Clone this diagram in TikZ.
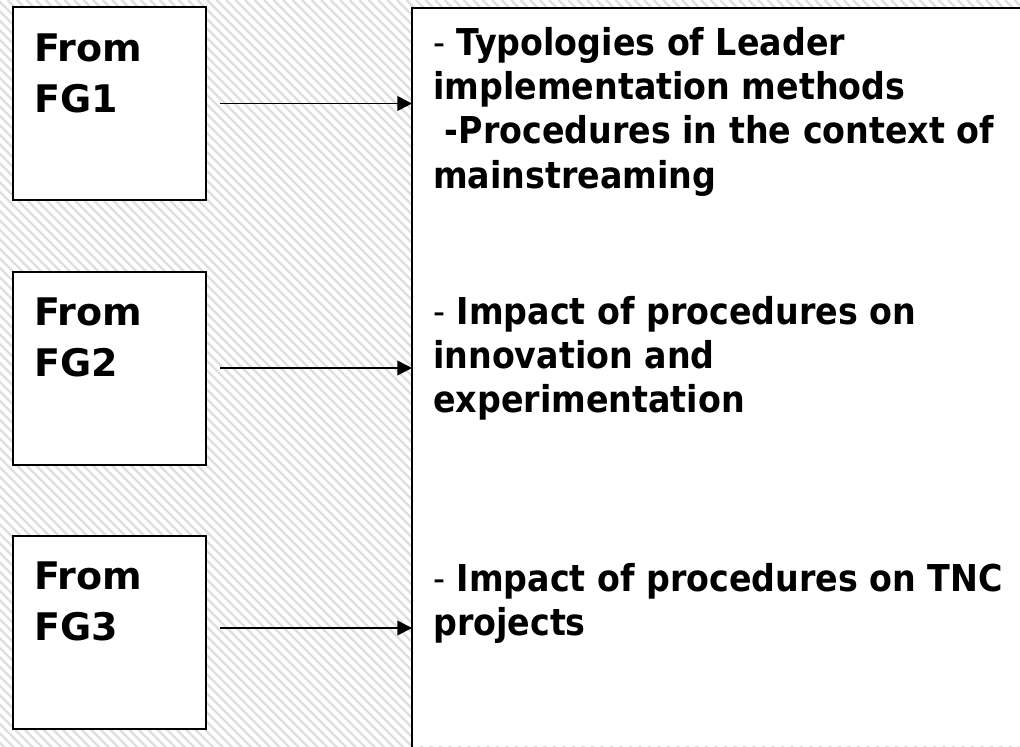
\documentclass[tikz,border=0pt]{standalone}
\usepackage{fontspec}
\setmainfont{DejaVu Sans}
\newfontfamily\boxfont{DejaVu Sans}
\newfontfamily\listfont{DejaVu Sans Condensed}
\usetikzlibrary{arrows.meta}
\definecolor{hatchgray}{RGB}{222,222,222}
\tikzset{
  hatchline/.style={draw=hatchgray, line width=1.7pt},
  fgbox/.style={draw=black, line width=1.5pt, fill=white, rectangle, inner sep=0pt,
    minimum width=144.75pt, minimum height=144.75pt},
  fgtext/.style={anchor=north west, inner sep=0pt, align=left,
    font=\boxfont\bfseries\fontsize{28.5pt}{38.25pt}\selectfont},
  listtext/.style={anchor=north west, inner sep=0pt, align=left,
    font=\listfont\bfseries\fontsize{27.75pt}{33.2pt}\selectfont},
  arr/.style={draw=black, line width=1.2pt, -{Triangle[length=11pt,width=11pt]}},
  bigbox/.style={fill=white, rectangle, inner sep=0pt, minimum width=456pt, minimum height=553.5pt, anchor=north west},
  bigborder/.style={draw=black, line width=1.5pt}
}
\begin{document}
\begin{tikzpicture}[x=0.75pt, y=-0.75pt]
\useasboundingbox (0,0) rectangle (1020,746);
% hatched background
\fill[white] (0,0) rectangle (1020,746);
\begin{scope}
\clip (0,0) rectangle (1020,746);
\foreach \c in {-800,-790.5,...,1030} {
  \draw[hatchline] (\c,0) -- ({\c+800},800);
}
\end{scope}
% big target box
\node[bigbox] (tgt) at (412,8) {};
\draw[bigborder] (tgt.south west) -- (tgt.north west) -- (tgt.north east);
% source boxes
\node[fgbox] (b1) at (109.5,103.5) {};
\node[fgbox] (b2) at (109.5,368) {};
\node[fgbox] (b3) at (109.5,632) {};
\node[fgtext] (t1) at ([xshift=16.5pt,yshift=-20.25pt]b1.north west) {\rule{0pt}{21pt}From\\FG1};
\node[fgtext] (t2) at ([xshift=16.5pt,yshift=-20.25pt]b2.north west) {\rule{0pt}{21pt}From\\FG2};
\node[fgtext] (t3) at ([xshift=16.5pt,yshift=-20.25pt]b3.north west) {\rule{0pt}{21pt}From\\FG3};
% text blocks
\node[listtext] (l1) at (433,27) {\rule{0pt}{21pt}{\mdseries -} Typologies of Leader\\implementation methods\\\ -Procedures in the context of\\mainstreaming};
\node[listtext] (l2) at (433,296) {\rule{0pt}{21pt}{\mdseries -} Impact of procedures on\\innovation and\\experimentation};
\node[listtext] (l3) at (433,563) {\rule{0pt}{21pt}{\mdseries -} Impact of procedures on TNC\\projects};
% arrows
\draw[arr] ([xshift=9.75pt]b1.east) -- (b1.east -| tgt.west);
\draw[arr] ([xshift=9.75pt]b2.east) -- (b2.east -| tgt.west);
\draw[arr] ([xshift=9.75pt,yshift=3pt]b3.east) -- ([yshift=3pt]b3.east -| tgt.west);
\end{tikzpicture}
\end{document}
